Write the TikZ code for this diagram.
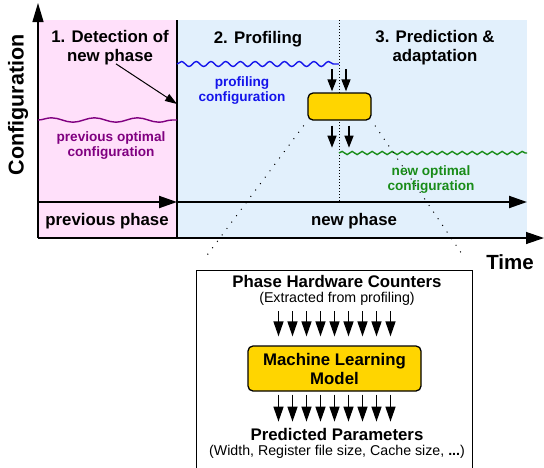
\documentclass[tikz,border=0pt]{standalone}
\usepackage{fontspec}
\setmainfont{Liberation Sans}
\usetikzlibrary{arrows.meta,decorations.pathmorphing}

\definecolor{prevpink}{RGB}{255,224,250}
\definecolor{newblue}{RGB}{226,240,252}
\definecolor{prevpurple}{RGB}{128,0,128}
\definecolor{profblue}{RGB}{20,20,235}
\definecolor{optgreen}{RGB}{25,140,25}
\definecolor{modelyellow}{RGB}{255,213,0}

\tikzset{
    axis/.style={line width=1.3pt, -{Triangle[length=19pt,width=11pt]}},
    phasearrow/.style={line width=2pt, -{Triangle[length=18pt,width=12pt]}},
    flow/.style={line width=1.4pt, -{Triangle[length=15pt,width=10pt]}},
    pointer/.style={line width=1pt, -{Triangle[length=12pt,width=8pt]}},
    wave/.style={line width=1.4pt, decorate,
        decoration={snake, segment length=#1, amplitude=2.2pt}},
    title/.style={font=\fontsize{16.8}{19}\selectfont\bfseries, align=center},
    conf/.style={font=\fontsize{13.6}{15}\selectfont\bfseries, align=center},
    note/.style={font=\fontsize{14.2}{17}\selectfont, align=center},
    modelbox/.style={draw, line width=1.3pt, fill=modelyellow, rounded corners=5pt},
    zoomline/.style={line width=1pt, dash pattern=on 1pt off 7pt}
}

\begin{document}
\begin{tikzpicture}[x=1pt, y=-1pt]
\useasboundingbox (0,0) rectangle (544,467);

% phase backgrounds
\fill[prevpink] (38,20) rectangle (177,238);
\fill[newblue] (177,20) rectangle (527,238);

\coordinate (origin) at (38,238);
\coordinate (tstart) at (38,202);
\coordinate (switch) at (177,202);
\coordinate (tend) at (527,202);
\coordinate (predicted) at (339,202);

\draw[line width=1.5pt] (177,20) -- (177,238);
\draw[line width=0.8pt, dash pattern=on 1pt off 2pt] (339,20) -- (predicted);

% axes
\draw[axis] (origin) -- (38,3);
\draw[axis, -{Triangle[length=18pt,width=12pt]}] (origin) -- (544,238);
\node[font=\fontsize{21.5}{21.5}\selectfont\bfseries, rotate=90] (ylabel) at (18,105) {Configuration};
\node[font=\fontsize{20.5}{20.5}\selectfont\bfseries] (xlabel) at (510,262) {Time};

% timeline
\draw[phasearrow] (tstart) -- (switch);
\draw[phasearrow] (switch) -- (tend);
\node[title] (prevphase) at (107,221) {previous phase};
\node[title] (newphase) at (354,221) {new phase};

% step titles
\node[title] (detect) at (110,48) {1. Detection of\\new phase};
\node[title] (profiling) at (258,39) {2. Profiling};
\node[title] (adapt) at (435,48) {3. Prediction \&\\adaptation};
\coordinate (detected) at (177,104);
\draw[pointer] ([xshift=6pt,yshift=5pt]detect.south) -- (detected);

% configurations
\draw[wave=43pt, prevpurple] (38,120) -- (177,120);
\draw[wave=14.7pt, profblue, decoration={amplitude=2.5pt}] (177,64) -- (339,64);
\draw[wave=10pt, optgreen, decoration={amplitude=1.6pt}] (339,153) -- (527,153);
\node[conf, text=prevpurple] (prevconf) at (111,146) {previous optimal\\configuration};
\node[conf, text=profblue] (profconf) at (242,91) {profiling\\configuration};
\node[conf, text=optgreen] (newconf) at (431,180) {new optimal\\configuration};

% predictor
\node[modelbox, minimum width=63pt, minimum height=27pt] (predict) at (339.5,106.5) {};
\foreach \dx in {-7.5,6.5}
    \draw[flow, -{Triangle[length=12pt,width=9pt]}]
        ([xshift=\dx pt,yshift=23pt]predict.north) -- ([xshift=\dx pt,yshift=1pt]predict.north);
\foreach \dx in {-7.5,9.5}
    \draw[flow, -{Triangle[length=12pt,width=9pt]}]
        ([xshift=\dx pt,yshift=-5pt]predict.south) -- ([xshift=\dx pt,yshift=-27pt]predict.south);

% detail of the predictor
\node[draw, line width=0.8pt, fill=white, minimum width=276pt, minimum height=220pt,
    anchor=north west, inner sep=0pt] (detail) at (196,270) {};
\draw[zoomline, shorten <=6pt, shorten >=15pt] (predict.south west) -- (detail.north west);
\draw[zoomline, shorten <=6pt, shorten >=16pt] (predict.south east) -- (detail.north east);

\node[title] (counters) at (337,281) {Phase Hardware Counters};
\node[note] (extracted) at (337,299) {(Extracted from profiling)};
\node[modelbox, title, minimum width=173pt, minimum height=45pt, inner sep=0pt] (model) at (334.5,368.5)
    {Machine Learning\\Model};
\foreach \i [evaluate=\i as \dx using 14*\i] in {-4,...,4} {
    \draw[flow] ([xshift=\dx pt,yshift=34pt]model.north) -- ([xshift=\dx pt,yshift=9pt]model.north);
    \draw[flow] ([xshift=\dx pt,yshift=-3pt]model.south) -- ([xshift=\dx pt,yshift=-30pt]model.south);
}
\node[title] (params) at (337,434) {Predicted Parameters};
\node[note] (paramlist) at (337,452) {(Width, Register file size, Cache size, \textbf{...})};
\end{tikzpicture}
\end{document}
